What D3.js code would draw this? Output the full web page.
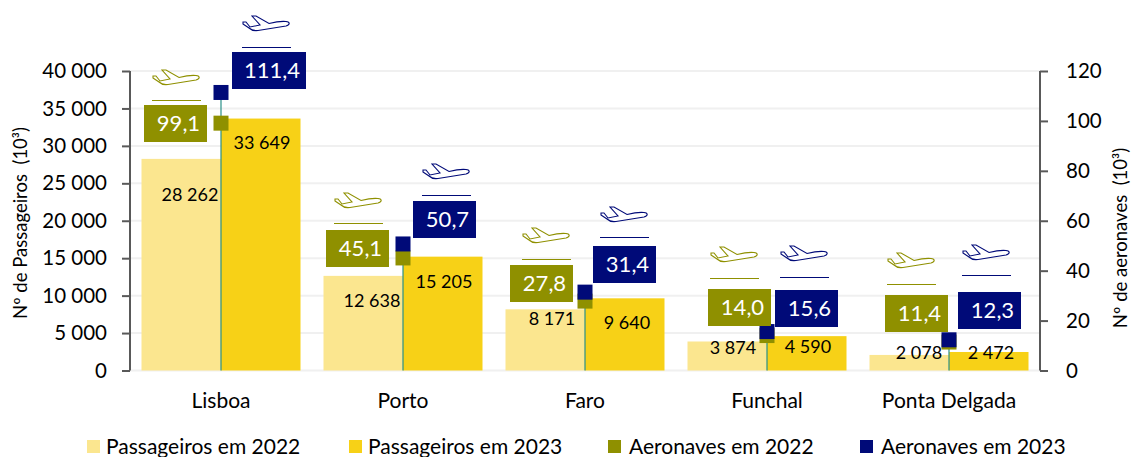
<!DOCTYPE html>
<html><head><meta charset="utf-8">
<script src="https://cdn.jsdelivr.net/npm/d3@7/dist/d3.min.js"></script>
<style>html,body{margin:0;background:#fff}text{font-family:Lato,Carlito,sans-serif;white-space:pre}</style>
</head><body><svg id="c" width="1131" height="457"></svg>
<script>
const categories=["Lisboa","Porto","Faro","Funchal","Ponta Delgada"];
const passageiros2022=[28262,12638,8171,3874,2078];
const passageiros2023=[33649,15205,9640,4590,2472];
const aeronaves2022=[99.1,45.1,27.8,14.0,11.4];
const aeronaves2023=[111.4,50.7,31.4,15.6,12.3];
const leftTicks=[0,5000,10000,15000,20000,25000,30000,35000,40000];
const rightTicks=[0,20,40,60,80,100,120];
const legendLabels=["Passageiros em 2022","Passageiros em 2023","Aeronaves em 2022","Aeronaves em 2023"];
// label placement (manual annotation layout of the original)
const box22=[[144,105],[326,230],[510,265],[708,289],[885,295]];
const box23=[[232,52],[413,201],[593,246],[775,290],[958,292]];
const rule22=[100,223,259,278,284];
const rule23=[47,195,237,277,275];
const plane22=[[153,70],[335,193],[523,228],[711,247],[888,253]];
const plane23=[[243,16],[423,164],[601,207],[781,246],[963,245]];
const lab22=[[190,195],[372,301],[552,319],[733,348],[919,353]];
const lab23=[[262,143],[444,282],[627,323],[808,347],[991,353]];

const svg=d3.select("#c");
const x0=130,x1=1040,yb=370.5,yt=71;
const x=d3.scaleBand().domain(categories).range([x0,x1]).paddingInner(0).paddingOuter(0);
const yL=d3.scaleLinear().domain([0,40000]).range([yb,yt]);
const yR=d3.scaleLinear().domain([0,120]).range([yb,yt]);
const c22="#fbe68f",c23="#f7d117",a22="#8f9000",a23="#000a78";
const fmt=v=>d3.format(",")(v).replace(/,/g," ");
const dec=v=>d3.format(".1f")(v).replace(".",",");

svg.append("g").selectAll("line").data(leftTicks).join("line")
 .attr("x1",x0).attr("x2",x1).attr("y1",d=>yL(d)).attr("y2",d=>yL(d))
 .attr("stroke","#f0f0f0").attr("stroke-width",2);

const bw=79.5;
const cx=c=>x(c)+x.bandwidth()/2;
svg.append("g").selectAll("rect").data(categories).join("rect")
 .attr("x",c=>cx(c)-bw).attr("width",bw).attr("y",(c,i)=>yL(passageiros2022[i])).attr("height",(c,i)=>yb-yL(passageiros2022[i])).attr("fill",c22);
svg.append("g").selectAll("rect").data(categories).join("rect")
 .attr("x",c=>cx(c)).attr("width",bw).attr("y",(c,i)=>yL(passageiros2023[i])).attr("height",(c,i)=>yb-yL(passageiros2023[i])).attr("fill",c23);

const axL=svg.append("g").attr("transform",`translate(${x0},0)`).call(d3.axisLeft(yL).tickValues(leftTicks).tickFormat(fmt).tickSize(8).tickPadding(15));
const axR=svg.append("g").attr("transform",`translate(${x1},0)`).call(d3.axisRight(yR).tickValues(rightTicks).tickSize(8).tickPadding(18));
[axL,axR].forEach(a=>{a.selectAll("path,line").attr("stroke","#595959").attr("stroke-width",2);a.selectAll("text").attr("font-size",20.5).attr("fill","#000").style("font-family","Lato,Carlito,sans-serif");a.select(".domain").attr("d",`M0,${yt}V${yb}`)});

svg.append("text").attr("transform","translate(27,223) rotate(-90)").attr("text-anchor","middle").attr("font-size",18.5).text("Nº de Passageiros  (10³)");
svg.append("text").attr("transform","translate(1127,238) rotate(-90)").attr("text-anchor","middle").attr("font-size",18.5).text("Nº de aeronaves  (10³)");

svg.append("g").selectAll("text").data(categories).join("text").attr("x",cx).attr("y",408).attr("text-anchor","middle").attr("font-size",21).text(d=>d);

// hi-lo line
svg.append("g").selectAll("line").data(categories).join("line").attr("x1",cx).attr("x2",cx).attr("y1",yb).attr("y2",(c,i)=>yR(aeronaves2023[i])).attr("stroke","#2a9088").attr("stroke-width",1.2);

const planePath="M0,8 L6,12 C8,14 11,15 15,14.5 L43,10 C47,9 47.5,6 43,5.5 C38,5 32,6 26,7.5 L13,0 L9,0 L17,9 L7,11 L3,6 L0,6 Z";
function planes(pos,col){svg.append("g").selectAll("path").data(pos).join("path").attr("transform",d=>`translate(${d[0]},${d[1]})`).attr("d",planePath).attr("fill","#fff").attr("stroke",col).attr("stroke-width",1.1);}
planes(plane22,a22);planes(plane23,a23);

function markers(vals,col){svg.append("g").selectAll("rect").data(categories).join("rect").attr("x",c=>cx(c)-7.5).attr("width",15).attr("height",15).attr("y",(c,i)=>yR(vals[i])-7.5).attr("fill",col);}
markers(aeronaves2022,a22);markers(aeronaves2023,a23);

function boxes(pos,rules,planesPos,vals,col,widths){
 const g=svg.append("g").selectAll("g").data(vals).join("g");
 g.append("line").attr("x1",(d,i)=>planesPos[i][0]-1).attr("x2",(d,i)=>planesPos[i][0]+48).attr("y1",(d,i)=>rules[i]+0.5).attr("y2",(d,i)=>rules[i]+0.5).attr("stroke",col).attr("stroke-width",1.2);
 g.append("rect").attr("x",(d,i)=>pos[i][0]).attr("y",(d,i)=>pos[i][1]).attr("width",(d,i)=>widths[i]).attr("height",37).attr("fill",col);
 g.append("text").attr("x",(d,i)=>pos[i][0]+widths[i]/2+3).attr("y",(d,i)=>pos[i][1]+26).attr("text-anchor","middle").attr("font-size",22).attr("fill","#fff").text(dec);
}
boxes(box22,rule22,plane22,aeronaves2022,a22,[63,63,63,63,63]);
boxes(box23,rule23,plane23,aeronaves2023,a23,[74,63,63,63,63]);

function labs(pos,vals){svg.append("g").selectAll("text").data(vals).join("text").attr("x",(d,i)=>pos[i][0]).attr("y",(d,i)=>pos[i][1]+6).attr("text-anchor","middle").attr("font-size",18).text(fmt);}
labs(lab22,passageiros2022);labs(lab23,passageiros2023);

const legX=[87,349,608,860],legCol=[c22,c23,a22,a23],legTx=[19,19,21,21];
const lg=svg.append("g").selectAll("g").data(legendLabels).join("g").attr("transform",(d,i)=>`translate(${legX[i]},440)`);
lg.append("rect").attr("width",13).attr("height",13).attr("fill",(d,i)=>legCol[i]);
lg.append("text").attr("x",(d,i)=>legTx[i]).attr("y",14).attr("font-size",21).text(d=>d);
</script></body></html>
